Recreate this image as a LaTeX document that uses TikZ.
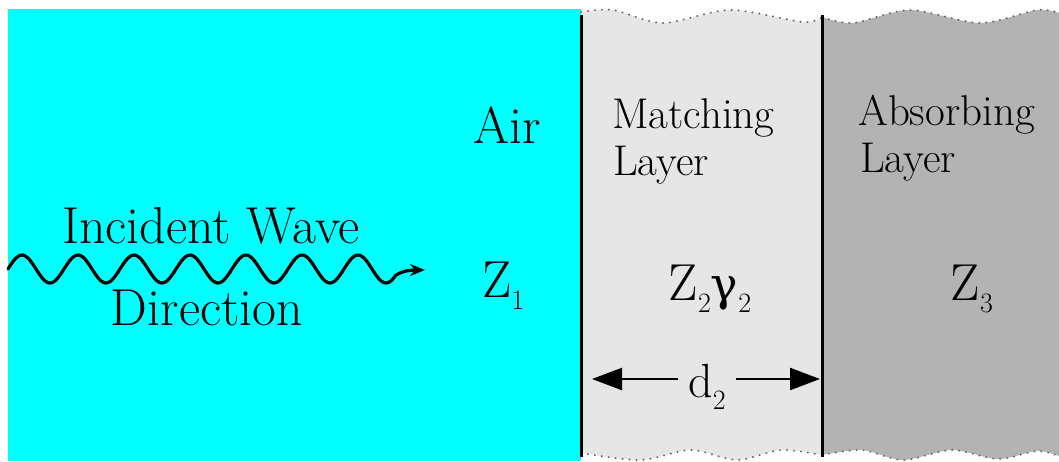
\documentclass[tikz,border=0pt]{standalone}
\usepackage{fontspec}
\newfontfamily\greekup{DejaVu Serif}
\usetikzlibrary{arrows.meta}
\definecolor{airblue}{HTML}{00FFFF}
\definecolor{matchgray}{HTML}{E6E6E6}
\definecolor{absgray}{HTML}{B3B3B3}
\newcommand{\lowsub}[1]{\raisebox{-12pt}{\fontsize{28}{30}\selectfont #1}}
\tikzset{
  bigtext/.style={font=\fontsize{52}{60}\selectfont, inner sep=0pt},
  midtext/.style={font=\fontsize{43}{50}\selectfont, inner sep=0pt},
  wavyedge/.style={draw=black!60, line width=2.2pt, line cap=round, dash pattern=on 0pt off 7pt},
  boundary/.style={line width=3pt},
  widtharrow/.style={line width=2.4pt, -{Triangle[length=30pt,width=22pt]}},
}
\begin{document}
\begin{tikzpicture}[x=1pt,y=-1pt]
  \useasboundingbox (0,0) rectangle (1059,461);

  % media
  \fill[airblue] (8,9) rectangle (581,461);
  \fill[matchgray] plot[smooth] coordinates {(581,12) (613,10) (663,23) (730,10) (803,22) (822,17)}
    -- plot[smooth] coordinates {(822,455) (781,450) (737,460) (691,450) (640,460) (581,453)} -- cycle;
  \fill[absgray] plot[smooth] coordinates {(822,17) (853,23) (910,10) (980,23) (1037,10) (1059,13)}
    -- plot[smooth] coordinates {(1059,456) (1037,451) (998,459) (952,450) (903,460) (862,450) (822,455)} -- cycle;

  % torn edges
  \draw[wavyedge] plot[smooth] coordinates {(581,12) (613,10) (663,23) (730,10) (803,22) (822,17)};
  \draw[wavyedge] plot[smooth] coordinates {(822,17) (853,23) (910,10) (980,23) (1037,10) (1059,13)};
  \draw[wavyedge] plot[smooth] coordinates {(581,453) (640,460) (691,450) (737,460) (781,450) (822,455)};
  \draw[wavyedge] plot[smooth] coordinates {(822,455) (862,450) (903,460) (952,450) (998,459) (1037,451) (1059,456)};

  % boundaries
  \coordinate (bonetop) at (581,15);
  \coordinate (bonebot) at (581,457);
  \coordinate (btwotop) at (822,15);
  \coordinate (btwobot) at (822,457);
  \draw[boundary] (bonetop) -- (bonebot);
  \draw[boundary] (btwotop) -- (btwobot);

  % labels
  \node[bigtext, anchor=base] (incident) at (211,243) {Incident Wave};
  \node[bigtext, anchor=base] (direction) at (207,325) {Direction};
  \node[bigtext, anchor=base] (air) at (507,143) {Air};
  \node[bigtext, anchor=base west] (zone) at (482,297) {Z\lowsub{1}};
  \node[midtext, anchor=base west] (matchA) at (612,128) {Matching};
  \node[midtext, anchor=base west] (matchB) at (613,175) {Layer};
  \node[midtext, anchor=base west] (absA) at (858,125) {Absorbing};
  \node[midtext, anchor=base west] (absB) at (860,172) {Layer};
  \node[bigtext, anchor=base] (ztwo) at (710,300) {Z\lowsub{2}{\greekup\fontsize{46}{50}\selectfont γ}\lowsub{2}};
  \node[bigtext, anchor=base] (zthree) at (972,300) {Z\lowsub{3}};

  % incident wave
  \coordinate (wavetip) at (425,270);
  \draw[line width=3.2pt, line cap=round, -{Stealth[length=15pt,width=12pt]}]
    plot[domain=8:396, samples=160, smooth] (\x,{269-14*sin(6.42857*(\x-8))})
    .. controls (402,271) and (410,270) .. (wavetip);

  % layer thickness
  \node[font=\fontsize{48}{54}\selectfont, inner ysep=0pt, inner xsep=10pt, anchor=base] (dtwo) at (707,397) {d\lowsub{2}};
  \coordinate (dleft) at (592,379);
  \coordinate (dright) at (820,379);
  \draw[widtharrow] (dtwo.west |- dleft) -- (dleft);
  \draw[widtharrow] (dtwo.east |- dright) -- (dright);
\end{tikzpicture}
\end{document}
